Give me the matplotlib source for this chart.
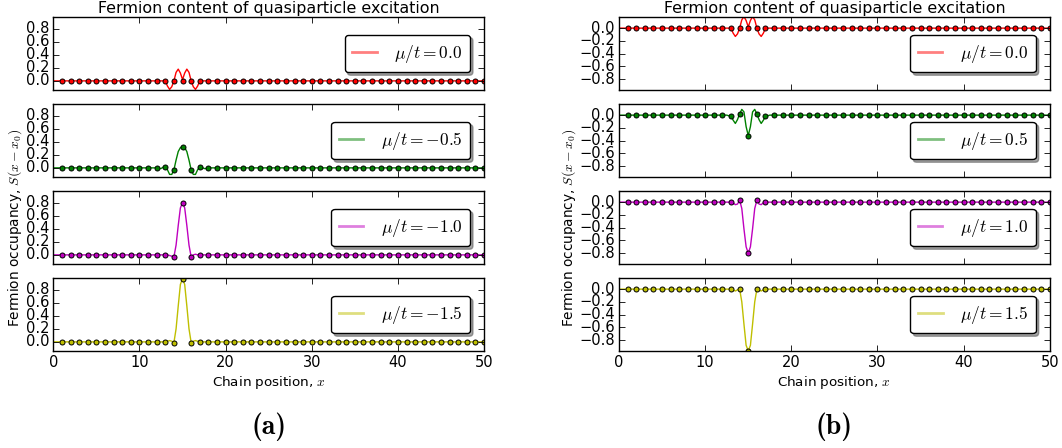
import numpy as np
import matplotlib
matplotlib.use("Agg")
import matplotlib.pyplot as plt
from matplotlib.lines import Line2D

plt.style.use("classic")
plt.rcParams["mathtext.fontset"] = "cm"
plt.rcParams["font.family"] = ["DejaVu Sans"]

# ================== DATA ==================

sites = np.arange(1, 51)
core_sites = [13, 14, 15, 16, 17]

# curve sample positions around the excitation (value is 0 elsewhere)
curve_x = [12.0, 12.25, 12.5, 12.75, 13.0, 13.25, 13.5, 13.75, 14.0, 14.25, 14.5, 14.75,
           15.0, 15.25, 15.5, 15.75, 16.0, 16.25, 16.5, 16.75, 17.0, 17.25, 17.5, 17.75, 18.0]

mu_neg = [0.0, -0.5, -1.0, -1.5]
mu_pos = [0.0, 0.5, 1.0, 1.5]
colors = ["r", "g", "m", "y"]

# lattice values S(x - x0) at core_sites
sites_neg = [
    [0.0, 0.0, 0.0, 0.0, 0.0],
    [0.02, -0.03, 0.32, -0.03, 0.01],
    [0.0, -0.03, 0.80, -0.03, 0.0],
    [0.0, -0.01, 0.97, -0.01, 0.0],
]
sites_pos = [
    [0.0, 0.0, 0.0, 0.0, 0.0],
    [-0.02, 0.02, -0.32, 0.02, -0.02],
    [0.0, 0.03, -0.80, 0.03, 0.0],
    [0.0, 0.0, -0.97, 0.0, 0.0],
]

# continuum curves sampled on curve_x
curve_neg = [
    [0, 0, 0, 0, 0.0, -0.08, -0.13, -0.09, 0.0, 0.13, 0.18, 0.12,
     0.02, 0.12, 0.18, 0.13, 0.0, -0.09, -0.13, -0.08, 0.0, 0, 0, 0, 0],
    [0, -0.01, -0.01, 0.01, 0.02, -0.03, -0.10, -0.10, -0.03, 0.12, 0.25, 0.31,
     0.33, 0.31, 0.25, 0.12, -0.03, -0.10, -0.10, -0.03, 0.02, 0.01, -0.01, -0.01, 0],
    [0, 0, 0, 0, 0.0, 0.0, -0.01, -0.02, -0.03, 0.15, 0.45, 0.72,
     0.80, 0.72, 0.45, 0.15, -0.03, 0.0, 0.01, 0.0, 0.0, 0, 0, 0, 0],
    [0, 0, 0, 0, 0.0, 0.01, 0.02, 0.01, -0.01, 0.20, 0.55, 0.88,
     0.97, 0.88, 0.55, 0.20, -0.01, 0.01, 0.02, 0.01, 0.0, 0, 0, 0, 0],
]
curve_pos = [
    [0, 0, 0, 0, 0.0, -0.08, -0.13, -0.09, 0.0, 0.13, 0.18, 0.12,
     0.02, 0.12, 0.18, 0.13, 0.0, -0.09, -0.13, -0.08, 0.0, 0, 0, 0, 0],
    [0, 0, 0, -0.01, -0.02, -0.08, -0.13, -0.07, 0.02, 0.09, 0.05, -0.18,
     -0.32, -0.18, 0.05, 0.09, 0.02, -0.07, -0.13, -0.08, -0.02, -0.01, 0, 0, 0],
    [0, 0, 0, 0, 0.0, -0.01, -0.04, -0.03, 0.03, -0.10, -0.42, -0.70,
     -0.80, -0.70, -0.42, -0.10, 0.03, -0.03, -0.04, -0.01, 0.0, 0, 0, 0, 0],
    [0, 0, 0, 0, 0.0, -0.01, -0.03, -0.01, 0.0, -0.20, -0.55, -0.88,
     -0.97, -0.88, -0.55, -0.20, 0.0, -0.01, -0.03, -0.01, 0.0, 0, 0, 0, 0],
]

yticks_neg = [0.0, 0.2, 0.4, 0.6, 0.8]
yticks_pos = [-0.8, -0.6, -0.4, -0.2, 0.0]


# ================== PLOT ==================

def full_sites(core):
    vals = np.zeros(len(sites))
    for s, v in zip(core_sites, core):
        vals[s - 1] = v
    return vals


def draw_column(fig, left, mus, site_vals, curves, ylim, yticks, tag, ylab_x):
    width = 0.4056
    bottoms = [0.7991, 0.6049, 0.4107, 0.2165]
    axes = []
    for i in range(4):
        ax = fig.add_axes([left, bottoms[i], width, 0.1623])
        cx = [0.0] + curve_x + [50.0]
        cy = [0.0] + curves[i] + [0.0]
        ax.plot(cx, cy, color=colors[i], lw=1.0)
        ax.plot(sites, full_sites(site_vals[i]), "o", color=colors[i],
                mec="k", mew=0.7, ms=3.6)
        ax.set_xlim(0, 50)
        ax.set_ylim(*ylim)
        ax.set_yticks(yticks)
        ax.set_xticks([0, 10, 20, 30, 40, 50])
        ax.tick_params(labelsize=10.5, length=4, width=0.6, pad=3)
        if i < 3:
            ax.set_xticklabels([])
        handle = Line2D([], [], color=colors[i], lw=2, alpha=0.5)
        ax.legend([handle], [r"$\mu/t = %.1f$" % mus[i]], loc="center right",
                  fontsize=12.5, fancybox=True, shadow=True, handlelength=1.4,
                  handletextpad=1.0, borderaxespad=0.8, borderpad=0.45,
                  numpoints=1)
        axes.append(ax)

    axes[0].set_title("Fermion content of quasiparticle excitation",
                      fontsize=11.4, pad=3)
    axes[3].set_xlabel("Chain position, $x$", fontsize=9.7, labelpad=3)
    axes[2].set_ylabel("Fermion occupancy, $S(x-x_0)$", fontsize=9.8)
    axes[2].yaxis.set_label_coords(ylab_x, 0.5)
    fig.text(left + width / 2, 0.048, "(%s)" % tag, family="cmb10",
             ha="center", va="center", fontsize=20)
    return axes


fig = plt.figure(figsize=(10.62, 4.48), dpi=100, facecolor="white")

draw_column(fig, 0.0502, mu_neg, sites_neg, curve_neg, (-0.14, 0.975),
            yticks_neg, "a", -0.068)
draw_column(fig, 0.5829, mu_pos, sites_pos, curve_pos, (-0.97, 0.17),
            yticks_pos, "b", -0.095)

plt.savefig("out.png", dpi=100, facecolor="white")
